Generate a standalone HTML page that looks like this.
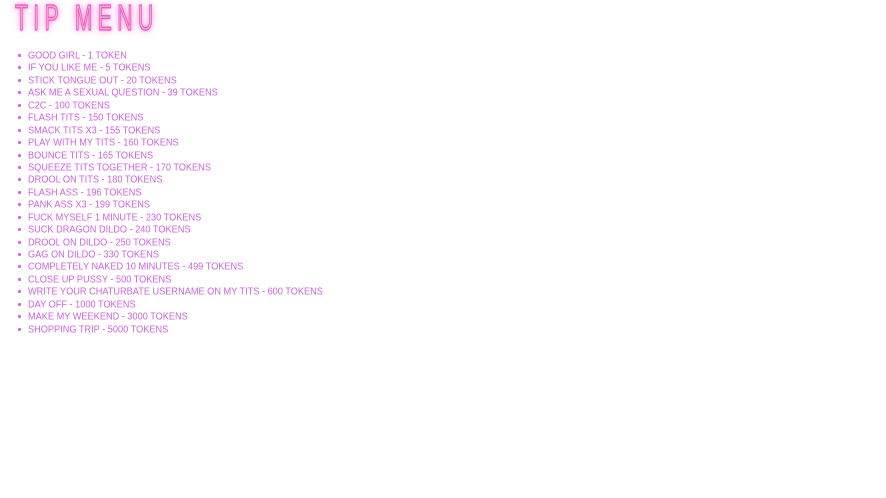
<!DOCTYPE html>
<html><head><meta charset="utf-8"><style>
html,body{margin:0;padding:0;background:#fff;width:886px;height:498px;overflow:hidden}
.t{position:absolute;left:15px;top:0px;font-family:"Liberation Sans Narrow","Liberation Sans",sans-serif;font-size:36px;line-height:36px;letter-spacing:9px;color:#f7a8df;-webkit-text-stroke:1.2px #ee55bb;text-shadow:0 0 6px #ff77cc,0 0 12px #ffaadd;transform:scaleX(0.59);transform-origin:left top;white-space:nowrap}
ul{position:absolute;left:0;top:49px;margin:0;padding:0;list-style:none;font-family:"Liberation Sans",sans-serif;font-size:9.2px;color:#cc66dd;white-space:nowrap}
li{position:relative;padding-left:28px;height:12.45px;line-height:12.45px;transform:scaleY(1.1);transform-origin:left center}
li:before{content:"";position:absolute;left:18px;top:5px;width:3px;height:3px;border-radius:50%;background:#cc66dd}
</style></head><body>
<div class="t">TIP MENU</div>
<ul>
<li>GOOD GIRL - 1 TOKEN</li>
<li>IF YOU LIKE ME - 5 TOKENS</li>
<li>STICK TONGUE OUT - 20 TOKENS</li>
<li>ASK ME A SEXUAL QUESTION - 39 TOKENS</li>
<li>C2C - 100 TOKENS</li>
<li>FLASH TITS - 150 TOKENS</li>
<li>SMACK TITS X3 - 155 TOKENS</li>
<li>PLAY WITH MY TITS - 160 TOKENS</li>
<li>BOUNCE TITS - 165 TOKENS</li>
<li>SQUEEZE TITS TOGETHER - 170 TOKENS</li>
<li>DROOL ON TITS - 180 TOKENS</li>
<li>FLASH ASS - 196 TOKENS</li>
<li>PANK ASS X3 - 199 TOKENS</li>
<li>FUCK MYSELF 1 MINUTE - 230 TOKENS</li>
<li>SUCK DRAGON DILDO - 240 TOKENS</li>
<li>DROOL ON DILDO - 250 TOKENS</li>
<li>GAG ON DILDO - 330 TOKENS</li>
<li>COMPLETELY NAKED 10 MINUTES - 499 TOKENS</li>
<li>CLOSE UP PUSSY - 500 TOKENS</li>
<li>WRITE YOUR CHATURBATE USERNAME ON MY TITS - 600 TOKENS</li>
<li>DAY OFF - 1000 TOKENS</li>
<li>MAKE MY WEEKEND - 3000 TOKENS</li>
<li>SHOPPING TRIP - 5000 TOKENS</li>
</ul>
</body></html>
